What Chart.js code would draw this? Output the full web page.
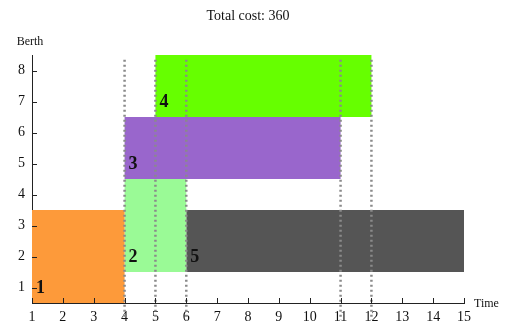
<!DOCTYPE html>
<html>
<head>
<meta charset="utf-8">
<script src="https://cdn.jsdelivr.net/npm/chart.js@4/dist/chart.umd.min.js"></script>
<style>
  body { margin: 0; background: #fff; }
  #wrap { width: 511px; height: 325px; position: relative; }
</style>
</head>
<body>
<div id="wrap"><canvas id="myChart"></canvas></div>
<script>
// berth allocation: each task occupies a time span and a berth range
var taskIds = ['1', '2', '3', '4', '5'];
var startTimes = [1, 4, 4, 5, 6];
var endTimes = [4, 6, 11, 12, 15];
var berthLow = [0.5, 1.5, 4.5, 6.5, 1.5];
var berthHigh = [3.5, 4.5, 6.5, 8.5, 3.5];
var taskColors = ['#fd9a3a', '#9afa96', '#9966cc', '#66ff00', '#555555'];

var markTimes = [4, 5, 6, 11, 12];
var xTicks = [1, 2, 3, 4, 5, 6, 7, 8, 9, 10, 11, 12, 13, 14, 15];
var yTicks = [1, 2, 3, 4, 5, 6, 7, 8];
var totalCost = 360;

var serif = '"Liberation Serif", "DejaVu Serif", serif';

var datasets = [];

// dotted markers first so they sit on top
for (var i = 0; i < markTimes.length; i++) {
    datasets.push({
        type: 'scatter',
        data: [{ x: markTimes[i], y: 8.35 }, { x: markTimes[i], y: -0.05 }],
        showLine: true,
        borderColor: '#8a8a8a',
        borderWidth: 2.5,
        borderDash: [2, 3],
        pointRadius: 0,
        clip: false
    });
}

for (var i = 0; i < taskIds.length; i++) {
    datasets.push({
        type: 'scatter',
        data: [
            { x: startTimes[i], y: berthLow[i] },
            { x: endTimes[i], y: berthLow[i] },
            { x: endTimes[i], y: berthHigh[i] },
            { x: startTimes[i], y: berthHigh[i] },
            { x: startTimes[i], y: berthLow[i] }
        ],
        showLine: true,
        fill: 'shape',
        backgroundColor: taskColors[i],
        borderColor: taskColors[i],
        borderWidth: 0,
        pointRadius: 0,
        tension: 0
    });
}

var extras = {
    id: 'extras',
    afterDatasetsDraw: function (chart) {
        var c = chart.ctx;
        var xs = chart.scales.x, ys = chart.scales.y;
        var area = chart.chartArea;
        c.save();

        // task numbers
        c.fillStyle = '#111';
        c.font = 'bold 18px ' + serif;
        c.textAlign = 'left';
        c.textBaseline = 'middle';
        for (var i = 0; i < taskIds.length; i++) {
            c.fillText(taskIds[i], xs.getPixelForValue(startTimes[i]) + 4, ys.getPixelForValue(berthLow[i] + 0.5) + 1);
        }

        // tick marks pointing inward
        c.strokeStyle = '#222';
        c.lineWidth = 1;
        c.beginPath();
        for (var i = 0; i < yTicks.length; i++) {
            var py = Math.round(ys.getPixelForValue(yTicks[i])) + 0.5;
            c.moveTo(area.left, py);
            c.lineTo(area.left + 5, py);
        }
        for (var i = 0; i < xTicks.length; i++) {
            var px = Math.round(xs.getPixelForValue(xTicks[i])) + 0.5;
            c.moveTo(px, area.bottom);
            c.lineTo(px, area.bottom - 5);
        }
        c.stroke();

        // titles
        c.fillStyle = '#111';
        c.textBaseline = 'middle';
        c.font = '14px ' + serif;
        c.textAlign = 'center';
        c.fillText('Total cost: ' + totalCost, 248, 16);
        c.font = '12px ' + serif;
        c.fillText('Berth', 30, 42);
        c.textAlign = 'left';
        c.fillText('Time', 474, 304);
        c.restore();
    }
};

var ctx = document.getElementById('myChart');

var myChart = new Chart(ctx, {
    type: 'scatter',
    data: { datasets: datasets },
    options: {
        responsive: true,
        maintainAspectRatio: false,
        animation: false,
        events: [],
        layout: { padding: { top: 55, right: 47, left: 0, bottom: 0 } },
        plugins: {
            legend: { display: false },
            tooltip: { enabled: false }
        },
        scales: {
            x: {
                type: 'linear',
                min: 1,
                max: 15,
                afterBuildTicks: function (scale) {
                    scale.ticks = xTicks.map(function (v) { return { value: v }; });
                },
                afterFit: function (scale) { scale.height = 22; },
                grid: { display: false, drawTicks: false },
                border: { display: true, color: '#222', width: 1 },
                ticks: {
                    color: '#111',
                    padding: 6,
                    maxRotation: 0,
                    autoSkip: false,
                    font: { family: serif, size: 14 }
                }
            },
            y: {
                type: 'linear',
                min: 0.5,
                max: 8.5,
                afterBuildTicks: function (scale) {
                    scale.ticks = yTicks.map(function (v) { return { value: v }; });
                },
                afterFit: function (scale) { scale.width = 32; },
                grid: { display: false, drawTicks: false },
                border: { display: true, color: '#222', width: 1 },
                ticks: {
                    color: '#111',
                    padding: 7,
                    autoSkip: false,
                    font: { family: serif, size: 14 }
                }
            }
        }
    },
    plugins: [extras]
});
</script>
</body>
</html>
